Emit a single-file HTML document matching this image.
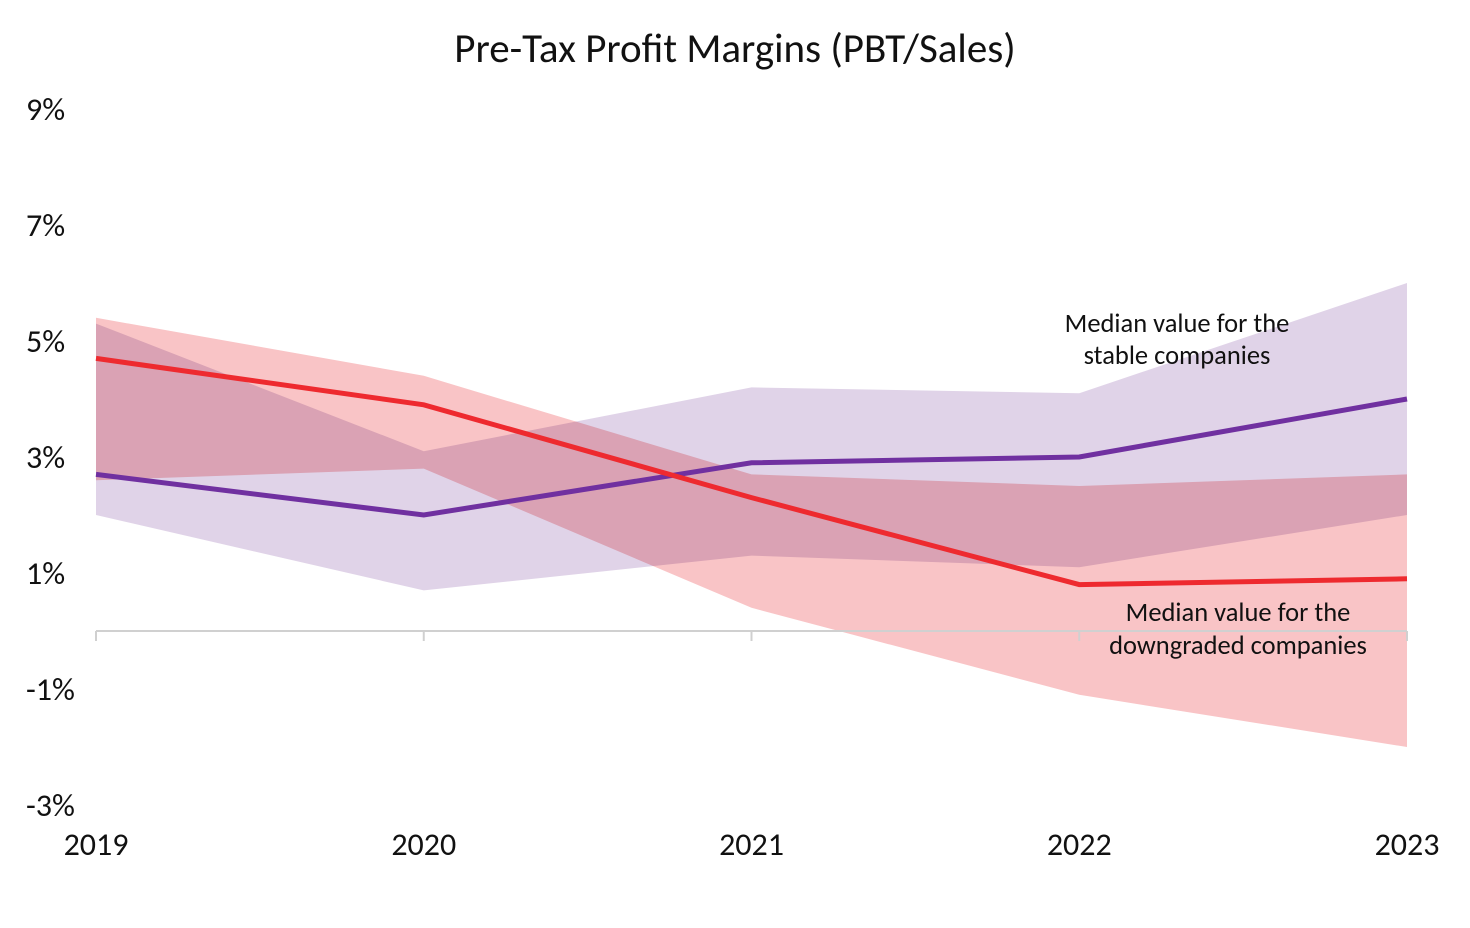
<!DOCTYPE html>
<html><head><meta charset="utf-8"><style>
body{margin:0;background:#fff;width:1470px;height:923px;overflow:hidden}
svg text{font-family:Carlito,"Liberation Sans",sans-serif;fill:#111}
</style></head><body>
<svg id="chart" width="1470" height="923" xmlns="http://www.w3.org/2000/svg">
<text x="735" y="62" font-size="41" text-anchor="middle">Pre-Tax Profit Margins (PBT/Sales)</text>
<g id="bands"></g><g id="axis"></g><g id="lines"></g>
<text x="1177" y="332" font-size="26.5" text-anchor="middle">Median value for the</text>
<text x="1177" y="364" font-size="26.5" text-anchor="middle">stable companies</text>
<text x="1238" y="621" font-size="26.5" text-anchor="middle">Median value for the</text>
<text x="1238" y="654" font-size="26.5" text-anchor="middle">downgraded companies</text>
</svg>
<script>
const years=['2019','2020','2021','2022','2023'];
const yTicks=[9,7,5,3,1,-1,-3];
const stableMedian=[2.7,2.0,2.9,3.0,4.0];
const stableUpper=[5.3,3.1,4.2,4.1,6.0];
const stableLower=[2.0,0.7,1.3,1.1,2.0];
const downMedian=[4.7,3.9,2.3,0.8,0.9];
const downUpper=[5.4,4.4,2.7,2.5,2.7];
const downLower=[2.6,2.8,0.4,-1.1,-2.0];
const NS='http://www.w3.org/2000/svg';
const x=i=>96+i*(1407-96)/(years.length-1);
const y=v=>631-v*58;
function mk(tag,attrs,parent){const e=document.createElementNS(NS,tag);for(const k in attrs)e.setAttribute(k,attrs[k]);document.getElementById(parent).appendChild(e);return e;}
function band(up,lo){let p=up.map((v,i)=>x(i)+','+y(v));for(let i=lo.length-1;i>=0;i--)p.push(x(i)+','+y(lo[i]));return p.join(' ');}
let b1=mk('polygon',{points:band(stableUpper,stableLower),fill:'#e0d3e8'},'bands');


let b2=mk('polygon',{points:band(downUpper,downLower),fill:'#f9c4c6',style:'mix-blend-mode:multiply'},'bands');


let ax=mk('line',{x1:96,x2:1407,y1:y(0),y2:y(0),stroke:'#d0d0d0','stroke-width':2},'axis');


years.forEach((yr,i)=>{
 let t=mk('line',{x1:x(i),x2:x(i),y1:y(0),y2:y(0)+10,stroke:'#d0d0d0','stroke-width':2},'axis');
 
 
 let l=mk('text',{x:x(i),y:855,'font-size':32,'text-anchor':'middle'},'axis');l.textContent=yr;
 
 
});
yTicks.forEach(v=>{
 let l=mk('text',{x:26,y:y(v)+11,'font-size':32},'axis');l.textContent=v+'%';
 
 
});
const pl=a=>a.map((v,i)=>x(i)+','+y(v)).join(' ');
let l1=mk('polyline',{points:pl(stableMedian),fill:'none',stroke:'#7030a0','stroke-width':5},'lines');


let l2=mk('polyline',{points:pl(downMedian),fill:'none',stroke:'#ee2a2f','stroke-width':5},'lines');


</script>
</body></html>
